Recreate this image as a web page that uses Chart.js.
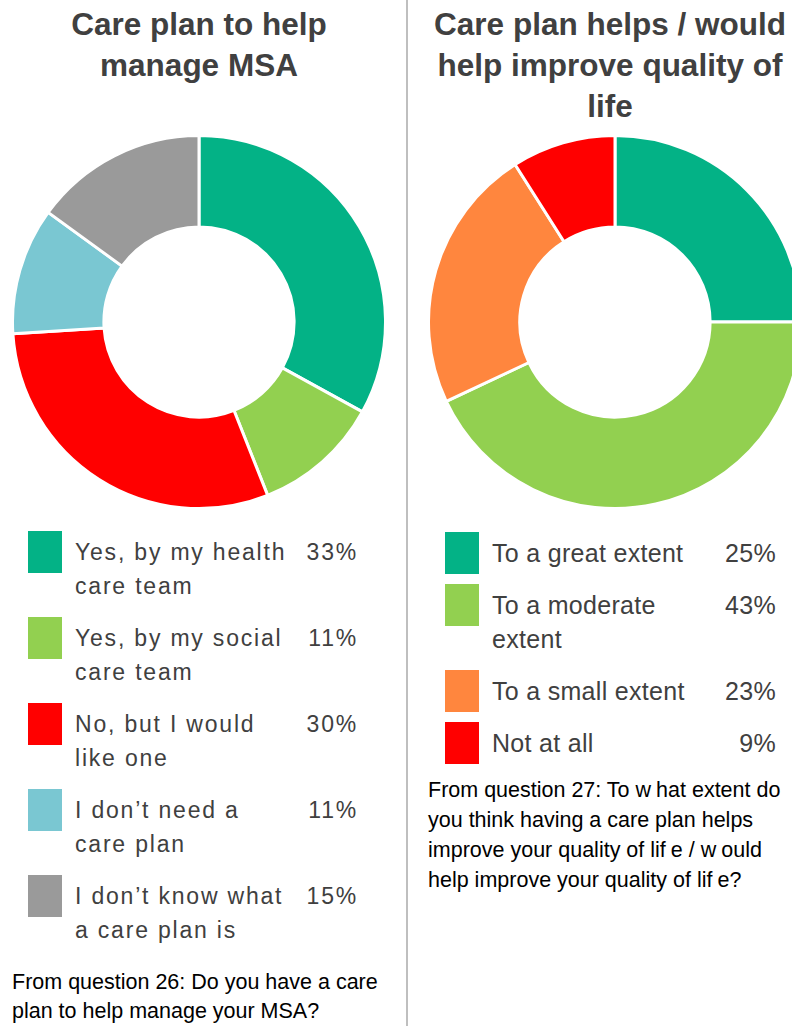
<!DOCTYPE html>
<html>
<head>
<meta charset="utf-8">
<script src="https://cdn.jsdelivr.net/npm/chart.js@4.4.0/dist/chart.umd.min.js"></script>
<style>
  html, body {
    margin: 0;
    padding: 0;
    background: #fff;
  }
  body {
    width: 792px;
    height: 1026px;
    overflow: hidden;
    position: relative;
    font-family: "Liberation Sans", Arial, sans-serif;
  }
  .title {
    position: absolute;
    top: 4px;
    font-size: 31.5px;
    font-weight: bold;
    line-height: 41px;
    color: #404040;
    text-align: center;
  }
  .divider {
    position: absolute;
    left: 406px;
    top: 0;
    width: 2px;
    height: 1026px;
    background: #bfbfbf;
  }
  canvas {
    position: absolute;
    top: 134px;
  }
  .legend {
    position: absolute;
    color: #404040;
  }
  .item {
    position: relative;
    padding-left: 47px;
    margin-bottom: 14px;
  }
  .swatch {
    position: absolute;
    left: 0;
    top: 0;
    width: 34px;
    height: 42px;
  }
  .label {
    display: block;
    padding-top: 4px;
    line-height: 34px;
  }
  .pct {
    position: absolute;
    right: 0;
    top: 4px;
    line-height: 34px;
  }
  .note {
    position: absolute;
    font-size: 21.5px;
    color: #000;
  }
  .gap { letter-spacing: 5px; }
</style>
</head>
<body>

<div class="title" style="left:19px; width:360px;">Care plan to help manage MSA</div>
<div class="title" style="left:425px; width:370px;">Care plan helps / would help improve quality of life</div>

<div class="divider"></div>

<canvas id="careChart" width="376" height="376" style="left:11px;"></canvas>
<canvas id="qolChart" width="376" height="376" style="left:427px;"></canvas>

<div class="legend" id="careLegend" style="left:28px; top:531px; width:330px; font-size:23px; letter-spacing:1.8px;"></div>
<div class="legend" id="qolLegend" style="left:445px; top:532px; width:331px; font-size:25px; letter-spacing:0.3px;"></div>

<div class="note" style="left:12px; top:968px; width:390px; line-height:29px;">
  From question 26: Do you have a care plan to help manage your MSA?
</div>
<div class="note" style="left:428px; top:775px; width:366px; line-height:30px;">
  From question 27: To <span class="gap">w</span>hat extent do you think having a care plan helps improve your quality of li<span class="gap">f</span>e / <span class="gap">w</span>ould help improve your quality of li<span class="gap">f</span>e?
</div>

<script>
// Q26: do you have a care plan
const careLabels = [
  'Yes, by my health care team',
  'Yes, by my social care team',
  'No, but I would like one',
  'I don\u2019t need a care plan',
  'I don\u2019t know what a care plan is'
];
const careValues = [33, 11, 30, 11, 15];
const careColors = ['#03b286', '#92d050', '#ff0000', '#7ac7d2', '#9a9a9a'];

// Q27: does it help quality of life
const qolLabels = [
  'To a great extent',
  'To a moderate extent',
  'To a small extent',
  'Not at all'
];
const qolValues = [25, 43, 23, 9];
const qolColors = ['#03b286', '#92d050', '#ff863e', '#ff0000'];

function makeDoughnut(id, labels, values, colors) {
  const ctx = document.getElementById(id).getContext('2d');
  return new Chart(ctx, {
    type: 'doughnut',
    data: {
      labels: labels,
      datasets: [{
        data: values,
        backgroundColor: colors,
        borderColor: '#ffffff',
        borderWidth: 3
      }]
    },
    options: {
      responsive: false,
      animation: false,
      cutout: '51%',
      layout: { padding: 0 },
      plugins: {
        legend: { display: false },
        tooltip: { enabled: false }
      }
    }
  });
}

function buildLegend(id, labels, values, colors, labelWidth) {
  const box = document.getElementById(id);
  labels.forEach((text, i) => {
    const item = document.createElement('div');
    item.className = 'item';
    item.innerHTML =
      '<span class="swatch" style="background:' + colors[i] + '"></span>' +
      '<span class="label" style="width:' + labelWidth + 'px">' + text + '</span>' +
      '<span class="pct">' + values[i] + '%</span>';
    box.appendChild(item);
  });
}

makeDoughnut('careChart', careLabels, careValues, careColors);
makeDoughnut('qolChart', qolLabels, qolValues, qolColors);

buildLegend('careLegend', careLabels, careValues, careColors, 215);
buildLegend('qolLegend', qolLabels, qolValues, qolColors, 215);
</script>
</body>
</html>
